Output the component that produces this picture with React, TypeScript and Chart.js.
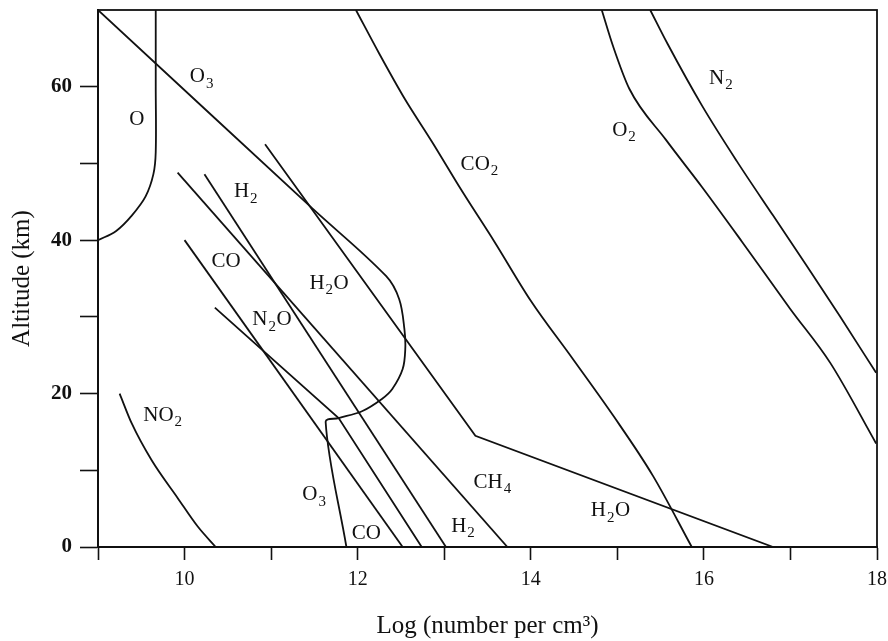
import React, { useEffect, useRef } from 'react';
import { Chart, registerables } from 'chart.js';

Chart.register(...registerables);

type P = [number, number];

// Axis ticks
const xTickValues = [9, 10, 11, 12, 13, 14, 15, 16, 17, 18];
const xTickLabels = ['', '10', '', '12', '', '14', '', '16', '', '18'];
const yTickValues = [0, 10, 20, 30, 40, 50, 60];
const yTickLabels = ['0', '', '20', '', '40', '', '60'];

// Profiles: [log10(number per cm3), altitude km]
const profileO: P[] = [[9.667, 70], [9.667, 60], [9.667, 51.5], [9.64, 48.6], [9.55, 45.7], [9.39, 43.2], [9.21, 41.2], [9.0, 40]];
const profileO3: P[] = [[9.0, 70], [11.47, 44.2], [12.33, 35.3], [12.48, 32.3], [12.54, 28.4], [12.55, 25.8], [12.52, 23.2], [12.4, 20.6], [12.28, 19.3], [12.05, 17.7], [11.78, 16.8], [11.63, 16.3], [11.87, 0]];
const profileCO2: P[] = [[11.98, 70], [12.25, 64.3], [12.54, 58.5], [12.86, 52.8], [13.2, 46.5], [13.58, 39.8], [14.0, 32.1], [14.48, 24.6], [14.96, 17.0], [15.41, 9.3], [15.86, 0]];
const profileO2: P[] = [[14.82, 70], [14.95, 65.3], [15.14, 59.7], [15.56, 53.1], [15.98, 46.9], [16.44, 39.8], [17.0, 31.0], [17.46, 24.0], [17.99, 13.5]];
const profileN2: P[] = [[15.38, 70], [15.58, 65.6], [15.98, 57.5], [16.38, 50.3], [16.8, 43.2], [17.18, 36.8], [17.57, 30.1], [17.99, 22.7]];
const profileH2O: P[] = [[10.93, 52.5], [13.36, 14.5], [16.8, 0]];
const profileCH4: P[] = [[9.92, 48.8], [13.73, 0]];
const profileH2: P[] = [[10.23, 48.6], [13.02, 0]];
const profileCO: P[] = [[10.0, 40], [12.52, 0]];
const profileN2O: P[] = [[10.35, 31.2], [11.78, 16.8], [12.74, 0]];
const profileNO2: P[] = [[9.25, 20], [9.39, 16.1], [9.62, 11.3], [9.92, 6.4], [10.15, 2.7], [10.36, 0]];

// shape: 'straight' polyline, 'smooth' (monotone in x), 'loop' (tension spline)
const profiles: { name: string; data: P[]; shape: string }[] = [
  { name: 'O', data: profileO, shape: 'loop' },
  { name: 'O3', data: profileO3, shape: 'loop' },
  { name: 'CO2', data: profileCO2, shape: 'smooth' },
  { name: 'O2', data: profileO2, shape: 'smooth' },
  { name: 'N2', data: profileN2, shape: 'smooth' },
  { name: 'H2O', data: profileH2O, shape: 'straight' },
  { name: 'CH4', data: profileCH4, shape: 'straight' },
  { name: 'H2', data: profileH2, shape: 'straight' },
  { name: 'CO', data: profileCO, shape: 'straight' },
  { name: 'N2O', data: profileN2O, shape: 'straight' },
  { name: 'NO2', data: profileNO2, shape: 'smooth' },
];

// Species labels (text, subscript, anchor in data units)
const speciesLabels: { base: string; sub: string; x: number; y: number }[] = [
  { base: 'O', sub: '', x: 9.45, y: 55.7 },
  { base: 'O', sub: '3', x: 10.2, y: 61.3 },
  { base: 'CO', sub: '2', x: 13.41, y: 49.9 },
  { base: 'O', sub: '2', x: 15.08, y: 54.3 },
  { base: 'N', sub: '2', x: 16.2, y: 61.1 },
  { base: 'H', sub: '2', x: 10.71, y: 46.3 },
  { base: 'CO', sub: '', x: 10.48, y: 37.2 },
  { base: 'H', sub: '2O', x: 11.67, y: 34.4 },
  { base: 'N', sub: '2O', x: 11.01, y: 29.6 },
  { base: 'NO', sub: '2', x: 9.75, y: 17.2 },
  { base: 'O', sub: '3', x: 11.5, y: 6.8 },
  { base: 'CO', sub: '', x: 12.1, y: 1.8 },
  { base: 'H', sub: '2', x: 13.22, y: 2.7 },
  { base: 'CH', sub: '4', x: 13.56, y: 8.4 },
  { base: 'H', sub: '2O', x: 14.92, y: 4.7 },
];

const SERIF = '"Liberation Serif", "DejaVu Serif", serif';

const framePlugin = {
  id: 'frame',
  afterDatasetsDraw(chart: any) {
    const { ctx, chartArea } = chart;
    ctx.save();
    ctx.strokeStyle = '#111';
    ctx.lineWidth = 1.8;
    ctx.strokeRect(chartArea.left, chartArea.top, chartArea.right - chartArea.left, chartArea.bottom - chartArea.top);
    ctx.restore();
  },
};

const labelPlugin = {
  id: 'speciesLabels',
  afterDatasetsDraw(chart: any) {
    const { ctx } = chart;
    const xs = chart.scales.x;
    const ys = chart.scales.y;
    const mainFont = `21px ${SERIF}`;
    const subFont = `15px ${SERIF}`;
    ctx.save();
    ctx.fillStyle = '#111';
    ctx.textBaseline = 'middle';
    ctx.textAlign = 'left';
    for (const l of speciesLabels) {
      const px = xs.getPixelForValue(l.x);
      const py = ys.getPixelForValue(l.y);
      const subDigit = l.sub.replace(/[^0-9]/g, '');
      const tail = l.sub.replace(/[0-9]/g, '');
      ctx.font = mainFont;
      const wb = ctx.measureText(l.base).width;
      const wt = tail ? ctx.measureText(tail).width : 0;
      ctx.font = subFont;
      const ws = subDigit ? ctx.measureText(subDigit).width + 1.5 : 0;
      const x0 = px - (wb + ws + wt) / 2;
      ctx.font = mainFont;
      ctx.fillText(l.base, x0, py);
      if (subDigit) {
        ctx.font = subFont;
        ctx.fillText(subDigit, x0 + wb + 1, py + 7);
      }
      if (tail) {
        ctx.font = mainFont;
        ctx.fillText(tail, x0 + wb + ws, py);
      }
    }
    ctx.restore();
  },
};

export default function App() {
  const canvasRef = useRef<HTMLCanvasElement | null>(null);

  useEffect(() => {
    if (!canvasRef.current) return;
    const chart = new Chart(canvasRef.current, {
      type: 'scatter',
      data: {
        datasets: profiles.map((p) => ({
          label: p.name,
          data: p.data.map(([x, y]) => ({ x, y })),
          showLine: true,
          borderColor: '#111',
          backgroundColor: '#111',
          borderWidth: 1.8,
          pointRadius: 0,
          pointHoverRadius: 0,
          tension: p.shape === 'loop' ? 0.35 : 0,
          cubicInterpolationMode: p.shape === 'smooth' ? 'monotone' : 'default',
          fill: false,
        })),
      },
      options: {
        animation: false,
        responsive: false,
        devicePixelRatio: 1,
        events: [],
        layout: { padding: { left: 0, right: 11, top: 10, bottom: 0 } },
        plugins: {
          legend: { display: false },
          tooltip: { enabled: false },
        },
        scales: {
          x: {
            type: 'linear',
            min: 9,
            max: 18,
            afterBuildTicks: (axis: any) => {
              axis.ticks = xTickValues.map((v) => ({ value: v }));
            },
            afterFit: (axis: any) => {
              axis.height = 94;
              axis.paddingLeft = 0;
              axis.paddingRight = 0;
            },
            ticks: {
              autoSkip: false,
              maxRotation: 0,
              padding: 8,
              color: '#111',
              font: { family: SERIF, size: 20 },
              callback: (v: any) => {
                const i = xTickValues.indexOf(Number(v));
                return i >= 0 ? xTickLabels[i] : '';
              },
            },
            grid: {
              drawOnChartArea: false,
              drawTicks: true,
              tickLength: 13,
              color: '#111',
              tickColor: '#111',
              tickWidth: 1.6,
            },
            border: { display: true, color: '#111', width: 2 },
            title: {
              display: true,
              text: 'Log (number per cm³)',
              color: '#111',
              font: { family: SERIF, size: 25 },
              padding: { top: 0, bottom: 0 },
            },
          },
          y: {
            type: 'linear',
            min: 0,
            max: 70,
            afterBuildTicks: (axis: any) => {
              axis.ticks = yTickValues.map((v) => ({ value: v }));
            },
            afterFit: (axis: any) => {
              axis.width = 98;
              axis.paddingTop = 0;
              axis.paddingBottom = 0;
            },
            ticks: {
              autoSkip: false,
              padding: 8,
              color: '#111',
              font: { family: SERIF, size: 21, weight: 'bold' },
              callback: (v: any) => {
                const i = yTickValues.indexOf(Number(v));
                return i >= 0 ? yTickLabels[i] : '';
              },
            },
            grid: {
              drawOnChartArea: false,
              drawTicks: true,
              tickLength: 18,
              color: '#111',
              tickColor: '#111',
              tickWidth: 1.6,
            },
            border: { display: true, color: '#111', width: 2 },
            title: {
              display: true,
              text: 'Altitude (km)',
              color: '#111',
              font: { family: SERIF, size: 25 },
              padding: { top: 7, bottom: 0 },
            },
          },
        },
      },
      plugins: [framePlugin, labelPlugin],
    } as any);
    return () => chart.destroy();
  }, []);

  return (
    <div style={{ position: 'absolute', left: 0, top: 0, width: 888, height: 641, background: '#fff' }}>
      <canvas ref={canvasRef} width={888} height={641} style={{ display: 'block' }} />
    </div>
  );
}
